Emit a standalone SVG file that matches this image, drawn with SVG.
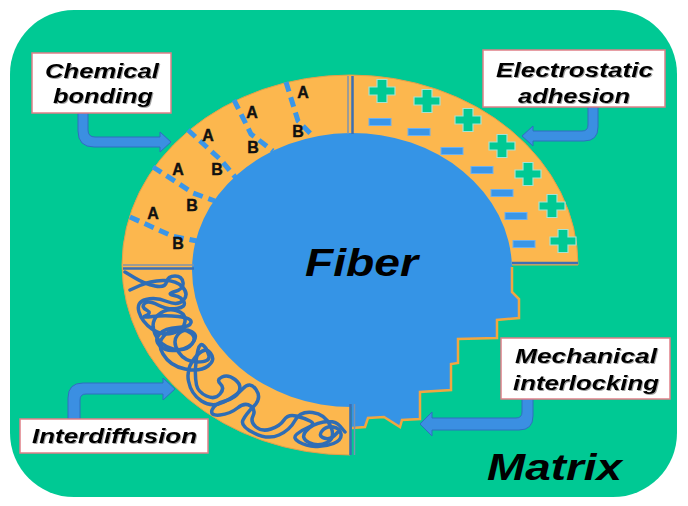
<svg xmlns="http://www.w3.org/2000/svg" width="688" height="506" viewBox="0 0 688 506">
<defs>
<style>
.lbl{font-family:"Liberation Sans",Arial,sans-serif;font-weight:bold;font-style:italic;font-size:21px;fill:#000;text-anchor:middle}
.big{font-family:"Liberation Sans",Arial,sans-serif;font-weight:bold;font-style:italic;fill:#000;text-anchor:middle}
.ab{font-family:"Liberation Sans",Arial,sans-serif;font-weight:bold;font-size:16px;fill:#111;stroke:#111;stroke-width:0.4;text-anchor:middle}
.box{fill:#fff;stroke:#e07f88;stroke-width:1.5}
.dash{fill:none;stroke:#3a96e8;stroke-width:5;stroke-dasharray:10 6}
.arr{fill:#3b8fe2;stroke:#2e6fbf;stroke-width:1}
.divg{stroke:#7f93ad;stroke-width:1.5}
.divb{stroke:#3d6fb3;stroke-width:2.5}
.minus{fill:#3a96e8;stroke:#6db0ee;stroke-width:1}
.tangle{fill:none;stroke:#2f6db5;stroke-width:3.5;stroke-linejoin:round;stroke-linecap:round}
</style>
<path id="plus" d="M-5,-11.5H5V-4H13V4H5V11.5H-5V4H-13V-4H-5Z" fill="#00c994" stroke="#a6e3d3" stroke-width="1.2"/>
<filter id="sh" x="-10%" y="-20%" width="120%" height="150%">
<feDropShadow dx="1" dy="1" stdDeviation="0.7" flood-color="#444" flood-opacity="0.5"/>
</filter>
</defs>
<rect x="0" y="0" width="688" height="506" fill="#fff"/>
<g id="matrix">
<rect x="10" y="10" width="667" height="487" rx="64" ry="64" fill="#00c994"/>
<text class="big" x="554.5" y="480" font-size="37" textLength="135" lengthAdjust="spacingAndGlyphs">Matrix</text>
</g>
<g id="interphase">
<path d="M578,265 A228,190 0 1 0 350,455 L350,265 Z" fill="#fcb74e" stroke="#e3a04a" stroke-width="1"/>
</g>
<g id="chemical-bonding-zone">
<polyline class="dash" points="286,82 298,121 314,137"/>
<polyline class="dash" points="234,100 251,134 273,151"/>
<polyline class="dash" points="188,130 221,160 236,178"/>
<polyline class="dash" points="153,167 193,193 215,201"/>
<polyline class="dash" points="130,217 172,236 197,241"/>
<text class="ab" x="303" y="97.5">A</text>
<text class="ab" x="298" y="137">B</text>
<text class="ab" x="252" y="117.5">A</text>
<text class="ab" x="253" y="152.5">B</text>
<text class="ab" x="208" y="140.5">A</text>
<text class="ab" x="217" y="175">B</text>
<text class="ab" x="178" y="175">A</text>
<text class="ab" x="192" y="210.5">B</text>
<text class="ab" x="153" y="218.5">A</text>
<text class="ab" x="178" y="249">B</text>
</g>
<g id="electrostatic-zone">
<use href="#plus" x="382" y="91"/>
<use href="#plus" x="427" y="101"/>
<use href="#plus" x="468" y="120"/>
<use href="#plus" x="502" y="146"/>
<use href="#plus" x="528" y="174"/>
<use href="#plus" x="552" y="206"/>
<use href="#plus" x="563" y="241"/>
<rect class="minus" x="369" y="118.5" width="22" height="7"/>
<rect class="minus" x="408" y="128.5" width="22" height="7"/>
<rect class="minus" x="441" y="147.5" width="22" height="7"/>
<rect class="minus" x="471" y="166.5" width="22" height="7"/>
<rect class="minus" x="491" y="189.5" width="22" height="7"/>
<rect class="minus" x="505" y="212.5" width="22" height="7"/>
<rect class="minus" x="513" y="240.5" width="22" height="7"/>
</g>
<g id="interdiffusion-zone">
<path class="tangle" d="M125,272 L135,278 Q145,284 155,286 Q165,288 166.5,282 Q168,276 175,276 Q182,276 183,282.5 Q184,289 175,291.5 Q166,294 174,295.5 Q182,297 184,302 Q186,307 177,308.5 Q168,310 158,305 Q148,300 144.5,303.5 Q141,307 146.5,310 Q152,313 146,315.5 Q140,318 152.5,316.5 Q165,315 178.5,316.5 Q192,318 191,322.5 Q190,327 177.5,327.5 Q165,328 159.5,334 Q154,340 160,346 Q166,352 178,350 Q190,348 194,341 Q198,334 190.5,331 Q183,328 177.5,335 Q172,342 178.5,352 Q185,362 197.5,362 Q210,362 209,356 Q208,350 204,346 Q200,342 198,350 Q196,358 195.5,368 Q195,378 196.5,385 Q198,392 206.5,396 Q215,400 220,394 Q225,388 220.5,384 Q216,380 222,377 Q228,374 235,379.5 Q242,385 239,391.5 Q236,398 225,401 Q214,404 212,410 Q210,416 220,415 Q230,414 237.5,408 Q245,402 250.5,406 Q256,410 253,416 Q250,422 256,427 Q262,432 271,429 Q280,426 284,420 Q288,414 296,416 Q304,418 310,421 Q316,424 309,427 Q302,430 297,434 Q292,438 299,442 Q306,446 315.5,446.5 Q325,447 333.5,443.5 Q342,440 341,434 Q340,428 333,427 Q326,426 322,431 Q318,436 324,438 Q330,440 334,436 L338,432"/>
<path class="tangle" d="M130,290 L140,285.5 Q150,281 163,280.5 Q176,280 182.5,287 Q189,294 183.5,300 Q178,306 167,301.5 Q156,297 146,299.5 Q136,302 139,312 Q142,322 152,329 Q162,336 173,333 Q184,330 185,321.5 Q186,313 176,310.5 Q166,308 158,315 Q150,322 155,334 Q160,346 173,349 Q186,352 192,344 Q198,336 187,331 Q176,326 166,334 Q156,342 163,354 Q170,366 185,369 Q200,372 208,366 Q216,360 210.5,353 Q205,346 195.5,357 Q186,368 188.5,381 Q191,394 201.5,401 Q212,408 224,402 Q236,396 243,388.5 Q250,381 256,389.5 Q262,398 254,406 Q246,414 243,420 Q240,426 254,433 Q268,440 279,435 Q290,430 295,420.5 Q300,411 312.5,412.5 Q325,414 330.5,426 Q336,438 327,442.5 Q318,447 309,442.5 Q300,438 306,431 Q312,424 323.5,422 Q335,420 340,426 L345,432"/>
</g>
<g id="fiber">
<path d="M512,267 A160,137 0 1 0 352,407 L352,428 L365,427 L368,418 L384,417 L400,427 L402,420 L420,419 L420,392 L451,390 L451,364 L458,363 L458,339 L497,338 L497,320 L519,318 L519,299 L512,292 Z" fill="#3594e6"/>
<polyline points="512,267 512,292 519,299 519,318 497,320 497,338 458,339 458,363 451,364 451,390 420,392 420,419 402,420 400,427 384,417 368,418 365,427 352,428" fill="none" stroke="#f2a640" stroke-width="2.5" stroke-linejoin="miter"/>
<text class="big" x="361.5" y="276" font-size="39" textLength="113" lengthAdjust="spacingAndGlyphs">Fiber</text>
</g>
<g id="dividers">
<line class="divg" x1="348" y1="76" x2="348" y2="134"/>
<line class="divb" x1="352.5" y1="76" x2="352.5" y2="134"/>
<line class="divg" x1="123" y1="265" x2="194" y2="265"/>
<line class="divb" x1="123" y1="268.5" x2="194" y2="268.5"/>
<line class="divb" x1="512" y1="263" x2="578" y2="263"/>
<line class="divb" x1="350.5" y1="404" x2="350.5" y2="455"/>
<line class="divg" x1="354.5" y1="404" x2="354.5" y2="455"/>
</g>
<g id="connectors">
<path class="arr" d="M78,113 H88 V130 Q88,137 95,137 H160 V132 L171,142 L160,152 V147 H94 Q78,147 78,131 Z"/>
<path class="arr" d="M598,107 V127 Q598,141 584,141 H533 V146 L522,136 L533,126 V131 H582 Q588,131 588,125 V107 Z"/>
<path class="arr" d="M68,419 V398 Q68,383 83,383 H163 V378 L175,389 L163,400 V394 H86 Q80,394 80,400 V419 Z"/>
<path class="arr" d="M533,399 V416 Q533,430 519,430 H432 V436 L420,424 L432,412 V418 H516 Q522,418 522,412 V399 Z"/>
</g>
<g id="box-chemical-bonding">
<rect class="box" x="32" y="53" width="139" height="60"/>
<text class="lbl" filter="url(#sh)" x="102" y="78" textLength="114" lengthAdjust="spacingAndGlyphs">Chemical</text>
<text class="lbl" filter="url(#sh)" x="103" y="103" textLength="100" lengthAdjust="spacingAndGlyphs">bonding</text>
</g>
<g id="box-electrostatic-adhesion">
<rect class="box" x="483" y="50" width="182" height="57"/>
<text class="lbl" filter="url(#sh)" x="574.5" y="77" textLength="157" lengthAdjust="spacingAndGlyphs">Electrostatic</text>
<text class="lbl" filter="url(#sh)" x="574" y="103" textLength="112" lengthAdjust="spacingAndGlyphs">adhesion</text>
</g>
<g id="box-interdiffusion">
<rect class="box" x="20" y="419" width="188" height="34"/>
<text class="lbl" filter="url(#sh)" x="114.5" y="443" textLength="165" lengthAdjust="spacingAndGlyphs">Interdiffusion</text>
</g>
<g id="box-mechanical-interlocking">
<rect class="box" x="501" y="338" width="169" height="61"/>
<text class="lbl" filter="url(#sh)" x="586" y="363" textLength="142" lengthAdjust="spacingAndGlyphs">Mechanical</text>
<text class="lbl" filter="url(#sh)" x="586" y="390" textLength="146" lengthAdjust="spacingAndGlyphs">interlocking</text>
</g>
</svg>
